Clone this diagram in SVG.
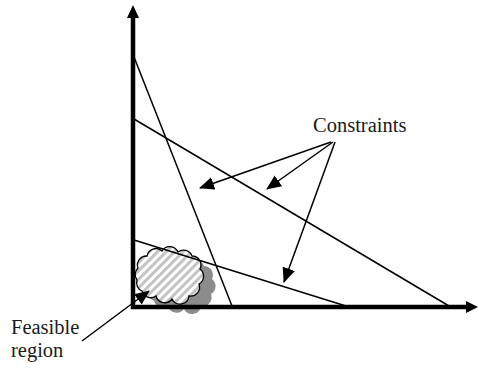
<svg xmlns="http://www.w3.org/2000/svg" width="478" height="368" viewBox="0 0 478 368">
<style>
.ax{stroke:#000;stroke-width:4.5;fill:none}
.ln{stroke:#000;stroke-width:1.5;fill:none}
.ar{stroke:#000;stroke-width:1.5;fill:none;marker-end:url(#ah)}
.t{font-family:"Liberation Serif","Times New Roman",serif;font-size:20.5px;fill:#1a1a1a}
</style>
<defs>
<marker id="ah" markerUnits="userSpaceOnUse" markerWidth="16" markerHeight="14" refX="14" refY="6.5" orient="auto">
<path d="M0,0 L15,6.5 L0,13 Z" fill="#000"/>
</marker>
<pattern id="st" patternUnits="userSpaceOnUse" width="6" height="6" patternTransform="rotate(45)">
<rect width="6" height="6" fill="#fff"/>
<rect width="3" height="6" fill="#c4c4c4"/>
</pattern>
<path id="cl" d="M138,268 A9,9 0 0 1 147,256 A9,9 0 0 1 162,251 A9,9 0 0 1 178,252 A9,9 0 0 1 192,256 A9,9 0 0 1 200,269 A9,9 0 0 1 199,284 A9,9 0 0 1 189,296 A9,9 0 0 1 172,299 A9,9 0 0 1 156,296 A9,9 0 0 1 142,291 A9,9 0 0 1 137,280 A9,9 0 0 1 138,268 Z"/>
</defs>
<g id="region">
<use href="#cl" transform="translate(12,10)" fill="#8c8c8c"/>
<use href="#cl" fill="url(#st)" stroke="#000" stroke-width="1.3"/>
</g>
<g id="axes">
<line class="ax" x1="133" y1="309" x2="133" y2="15"/>
<path d="M133,5 L139,18 L127,18 Z" fill="#000"/>
<line class="ax" x1="131" y1="307" x2="468" y2="307"/>
<path d="M478,307 L466,301 L466,313 Z" fill="#000"/>
</g>
<g id="constraint-lines">
<line class="ln" x1="134" y1="57" x2="232" y2="306"/>
<line class="ln" x1="134" y1="119" x2="449" y2="306"/>
<line class="ln" x1="134" y1="240" x2="346" y2="306"/>
</g>
<g id="connectors">
<line class="ar" x1="331" y1="142" x2="200" y2="188"/>
<line class="ar" x1="333" y1="142" x2="267" y2="189"/>
<line class="ar" x1="335" y1="142" x2="284" y2="282"/>
<line class="ar" x1="82" y1="341" x2="149" y2="291"/>
</g>
<g id="labels">
<text class="t" x="313" y="132">Constraints</text>
<text class="t" x="11" y="334">Feasible</text>
<text class="t" x="11" y="357">region</text>
</g>
</svg>
